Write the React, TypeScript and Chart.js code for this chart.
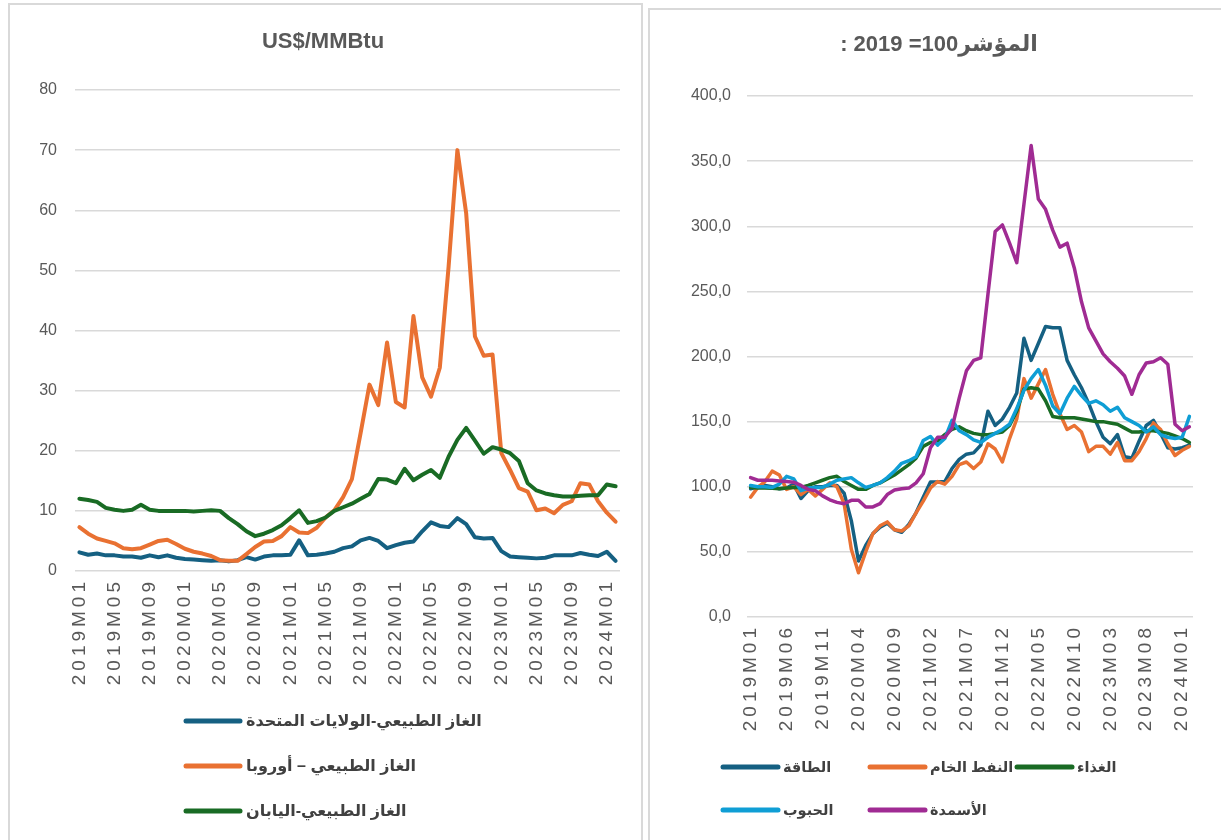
import React, { useEffect, useRef } from "react";
import { Chart, registerables } from "chart.js";
Chart.register(...registerables);

// ---------- categories ----------
function monthLabels(startYear: number, count: number): string[] {
  const out: string[] = [];
  for (let k = 0; k < count; k++) {
    const y = startYear + Math.floor(k / 12);
    const m = (k % 12) + 1;
    out.push(`${y}M${m < 10 ? "0" + m : m}`);
  }
  return out;
}
const gasMonths = monthLabels(2019, 62); // 2019M01 .. 2024M02
const indexMonths = monthLabels(2019, 62);

// ---------- left chart: natural gas, US$/MMBtu ----------
const gasTitle = "US$/MMBtu";
const gasTicks = [0, 10, 20, 30, 40, 50, 60, 70, 80];
const usGasLabel = "الغاز الطبيعي-الولايات المتحدة";
const europeGasLabel = "الغاز الطبيعي – أوروبا";
const japanGasLabel = "الغاز الطبيعي-اليابان";

const usGas = [
  3.1, 2.7, 2.9, 2.6, 2.6, 2.4, 2.4, 2.2, 2.6, 2.3, 2.6, 2.2,
  2.0, 1.9, 1.8, 1.7, 1.8, 1.6, 1.8, 2.3, 1.9, 2.4, 2.6, 2.6,
  2.7, 5.1, 2.6, 2.7, 2.9, 3.2, 3.8, 4.1, 5.1, 5.5, 5.0, 3.8,
  4.3, 4.7, 4.9, 6.6, 8.1, 7.5, 7.3, 8.8, 7.8, 5.6, 5.4, 5.5,
  3.3, 2.4, 2.3, 2.2, 2.1, 2.2, 2.6, 2.6, 2.6, 3.0, 2.7, 2.5,
  3.2, 1.7,
];
const europeGas = [
  7.3, 6.2, 5.4, 5.0, 4.6, 3.8, 3.6, 3.8, 4.4, 5.0, 5.2, 4.5,
  3.7, 3.2, 2.9, 2.5, 1.8, 1.7, 1.7, 2.8, 4.0, 4.9, 5.0, 5.8,
  7.3, 6.4, 6.3, 7.2, 8.9, 10.1, 12.3, 15.3, 23.0, 31.0, 27.6, 38.0,
  28.1, 27.2, 42.4, 32.2, 29.0, 33.8, 50.6, 70.0, 59.5, 39.0, 35.8, 36.0,
  19.6, 16.8, 13.8, 13.2, 10.1, 10.4, 9.6, 11.0, 11.6, 14.6, 14.4, 11.6,
  9.7, 8.2,
];
const japanGas = [
  12.0, 11.8, 11.5, 10.5, 10.2, 10.0, 10.2, 11.0, 10.2, 10.0, 10.0, 10.0,
  10.0, 9.9, 10.0, 10.1, 10.0, 8.8, 7.8, 6.6, 5.8, 6.2, 6.8, 7.6,
  8.8, 10.1, 8.0, 8.3, 8.9, 10.0, 10.6, 11.2, 12.0, 12.8, 15.3, 15.2,
  14.6, 17.0, 15.1, 16.0, 16.8, 15.5, 19.0, 21.8, 23.8, 21.7, 19.5, 20.6,
  20.2, 19.6, 18.3, 14.6, 13.4, 12.9, 12.6, 12.4, 12.4, 12.5, 12.6, 12.6,
  14.4, 14.1,
];

// ---------- right chart: indices, 2019 = 100 ----------
const indexTitle = "المؤشر100= 2019 :";
const indexTicks = [0, 50, 100, 150, 200, 250, 300, 350, 400];
const energyLabel = "الطاقة";
const crudeLabel = "النفط الخام";
const foodLabel = "الغذاء";
const cerealsLabel = "الحبوب";
const fertLabel = "الأسمدة";

const energy = [
  98.5, 100, 101, 100, 98.5, 99, 102, 91, 97, 100, 100, 101,
  101, 95, 74, 43, 55, 64, 69, 72, 67, 65, 71, 80,
  92, 103.6, 103.6, 104, 114, 121, 125, 126, 132, 158, 147, 152,
  161, 172, 214, 197, 210, 223, 222, 222, 197, 186, 176, 164,
  150, 138, 133, 140, 123, 122, 135, 147, 151, 141, 130, 129,
  130, 132,
];
const crude = [
  92, 99.5, 104, 112, 109, 98, 100, 94, 98, 93, 98, 103,
  100, 87, 52, 34, 50, 64, 70, 73, 67, 66, 70, 80,
  89, 99, 104, 102, 108, 117, 119, 114, 119, 133, 129, 119,
  137, 152, 183, 168, 179, 190, 171, 156, 144, 147, 142, 127,
  131, 131, 125, 134, 120, 120, 127, 137, 149, 144, 133, 124,
  128, 131,
];
const food = [
  99.5, 99, 99, 98.8, 98.5, 99, 99.5, 99.5, 101, 103, 105, 107,
  108, 104, 101, 98, 98, 101, 103, 106, 109, 113, 117, 122,
  131, 134, 135, 140, 144, 146, 143, 141, 140, 140, 141, 142,
  147, 158, 175, 176, 175, 166, 154, 153, 153, 153, 152, 151,
  150, 150, 149, 148, 145, 142, 142, 143, 143, 142, 141, 139,
  137, 134,
];
const cereals = [
  101, 100, 100, 99.5, 102, 108, 106, 97, 99, 99.5, 99.5, 102,
  105, 106, 107, 103, 99.5, 101, 103, 107, 112, 118, 120, 123,
  135.5, 138.6, 132, 137, 151, 143, 140, 136, 134, 138, 141, 144,
  148, 160, 174, 183, 190, 178, 162, 156, 168, 177, 170, 164,
  166, 163, 158, 161, 153, 150, 147, 142, 146, 140, 138, 137,
  138, 154,
];
const fertilizers = [
  107, 105, 105, 105, 104.5, 104, 103.5, 101, 98, 97, 93, 90,
  88, 87, 89.6, 89.6, 84.5, 84.5, 87, 94, 97.5, 98.5, 99, 103,
  110, 130, 138, 138, 145, 168, 189, 197, 199, 248, 296, 301,
  287, 272, 317, 362, 321, 313, 297, 284, 287, 268, 242, 222,
  212, 202, 196, 191, 185, 171, 186, 195, 196, 199, 194, 148,
  143, 146,
];

// ---------- styling ----------
const TEXT = "#595959";
const GRID = "#d9d9d9";
const FONT = "'Liberation Sans', 'DejaVu Sans', sans-serif";

const customLegend = {
  id: "customLegend",
  afterDraw(chart: any, _args: any, opts: any) {
    if (!opts || !opts.show) return;
    const ctx = chart.ctx;
    ctx.save();
    ctx.font = opts.font;
    ctx.fillStyle = opts.color;
    ctx.textBaseline = "middle";
    ctx.textAlign = "left";
    chart.data.datasets.forEach((ds: any, k: number) => {
      const col = k % opts.cols;
      const row = Math.floor(k / opts.cols);
      const x = opts.x + col * opts.colW;
      const y = opts.y + row * opts.rowH;
      ctx.strokeStyle = ds.borderColor;
      ctx.lineWidth = opts.lineW;
      ctx.lineCap = "round";
      ctx.beginPath();
      ctx.moveTo(x, y);
      ctx.lineTo(x + opts.len, y);
      ctx.stroke();
      ctx.fillText(ds.label, x + opts.len + opts.gap, y + 1);
    });
    ctx.restore();
  },
};

const customTitle = {
  id: "customTitle",
  afterDraw(chart: any, _args: any, opts: any) {
    if (!opts || !opts.text) return;
    const ctx = chart.ctx;
    ctx.save();
    ctx.font = opts.font;
    ctx.fillStyle = opts.color;
    ctx.textAlign = "center";
    ctx.textBaseline = "middle";
    if (opts.rtl) (ctx as any).direction = "rtl";
    ctx.fillText(opts.text, opts.x, opts.y);
    ctx.restore();
  },
};

const tickSpacing = {
  id: "tickSpacing",
  afterLayout(chart: any, _args: any, opts: any) {
    const sc: any = chart.scales.x;
    if (!sc || sc.__spaced) return;
    const orig = sc.drawLabels.bind(sc);
    sc.drawLabels = (area: any) => {
      const c: any = chart.ctx;
      c.save();
      c.letterSpacing = opts.spacing || "0px";
      orig(area);
      c.restore();
    };
    sc.__spaced = true;
  },
};

type PanelCfg = {
  labels: string[];
  datasets: { label: string; data: number[]; color: string }[];
  title: any;
  min: number;
  max: number;
  step: number;
  every: number;
  fmt: (v: number) => string;
  yWidth: number;
  yPad: number;
  xHeight: number;
  padRight: number;
  padBottom: number;
  padTop: number;
  legend: any;
  lineW: number;
};

function ChartCanvas({ cfg, width, height, left, top }: { cfg: PanelCfg; width: number; height: number; left: number; top: number }) {
  const ref = useRef<HTMLCanvasElement | null>(null);
  useEffect(() => {
    if (!ref.current) return;
    const n = cfg.datasets.length;
    const chart = new Chart(ref.current, {
      type: "line",
      data: {
        labels: cfg.labels,
        datasets: cfg.datasets.map((d, i) => ({
          label: d.label,
          data: d.data,
          borderColor: d.color,
          backgroundColor: d.color,
          borderWidth: cfg.lineW,
          pointRadius: 0,
          tension: 0,
          fill: false,
          borderJoinStyle: "round",
          borderCapStyle: "round",
          order: n - i,
        })),
      },
      options: {
        responsive: false,
        animation: false,
        layout: { padding: { left: 0, right: cfg.padRight, top: cfg.padTop, bottom: cfg.padBottom } },
        plugins: {
          legend: { display: false },
          tooltip: { enabled: false },
          title: { display: false },
          customTitle: cfg.title,
          customLegend: cfg.legend,
          tickSpacing: { spacing: "4px" },
        } as any,
        scales: {
          x: {
            type: "category",
            offset: true,
            grid: { display: false, drawTicks: false },
            border: { display: false },
            ticks: {
              autoSkip: false,
              minRotation: 90,
              maxRotation: 90,
              padding: 7,
              color: TEXT,
              font: { family: FONT, size: 19 },
              callback: function (this: any, _v: any, i: number) {
                return i % cfg.every === 0 ? cfg.labels[i] : "";
              },
            },
            afterFit: (s: any) => {
              s.height = cfg.xHeight;
              s.paddingLeft = 0;
              s.paddingRight = 0;
            },
          },
          y: {
            min: cfg.min,
            max: cfg.max,
            grid: { color: GRID, lineWidth: 1.5, drawTicks: false },
            border: { display: false },
            ticks: {
              stepSize: cfg.step,
              padding: cfg.yPad,
              color: TEXT,
              font: { family: FONT, size: 16 },
              callback: (v: any) => cfg.fmt(Number(v)),
            },
            afterFit: (s: any) => {
              s.width = cfg.yWidth;
            },
          },
        },
      },
      plugins: [customTitle, customLegend, tickSpacing],
    } as any);
    return () => chart.destroy();
  }, []);
  return (
    <canvas
      ref={ref}
      width={width}
      height={height}
      style={{ position: "absolute", left, top, width, height }}
    />
  );
}

const leftCfg: PanelCfg = {
  labels: gasMonths,
  datasets: [
    { label: usGasLabel, data: usGas, color: "#156082" },
    { label: europeGasLabel, data: europeGas, color: "#E97132" },
    { label: japanGasLabel, data: japanGas, color: "#196B24" },
  ],
  title: { text: gasTitle, font: `bold 22px ${FONT}`, color: TEXT, x: 313, y: 37, rtl: false },
  min: gasTicks[0],
  max: gasTicks[gasTicks.length - 1],
  step: gasTicks[1] - gasTicks[0],
  every: 4,
  fmt: (v) => String(v),
  yWidth: 65,
  yPad: 18,
  xHeight: 130,
  padRight: 20,
  padBottom: 139,
  padTop: 85,
  lineW: 4,
  legend: { show: true, font: `bold 16px ${FONT}`, color: "#404040", x: 176, y: 716, cols: 1, colW: 0, rowH: 45, len: 54, gap: 6, lineW: 5 },
};

const rightCfg: PanelCfg = {
  labels: indexMonths,
  datasets: [
    { label: energyLabel, data: energy, color: "#156082" },
    { label: crudeLabel, data: crude, color: "#E97132" },
    { label: foodLabel, data: food, color: "#196B24" },
    { label: cerealsLabel, data: cereals, color: "#0F9ED5" },
    { label: fertLabel, data: fertilizers, color: "#A02B93" },
  ],
  title: { text: indexTitle, font: `bold 22px ${FONT}`, color: TEXT, x: 288, y: 35, rtl: true },
  min: indexTicks[0],
  max: indexTicks[indexTicks.length - 1],
  step: indexTicks[1] - indexTicks[0],
  every: 5,
  fmt: (v) => v.toFixed(1).replace(".", ","),
  yWidth: 96,
  yPad: 16,
  xHeight: 130,
  padRight: 28,
  padBottom: 93,
  padTop: 86,
  lineW: 3.5,
  legend: { show: true, font: `bold 14.5px ${FONT}`, color: "#404040", x: 72, y: 757, cols: 3, colW: 147, rowH: 43, len: 55, gap: 5, lineW: 5 },
};

export default function App() {
  return (
    <div style={{ position: "fixed", left: 0, top: 0, width: 1221, height: 840, background: "#fff", overflow: "hidden" }}>
      <div style={{ position: "absolute", left: 8, top: 3, width: 635, height: 860, border: "2px solid #d9d9d9", boxSizing: "border-box" }} />
      <div style={{ position: "absolute", left: 648, top: 8, width: 590, height: 860, border: "2px solid #d9d9d9", boxSizing: "border-box" }} />
      <ChartCanvas cfg={leftCfg} width={630} height={835} left={10} top={5} />
      <ChartCanvas cfg={rightCfg} width={570} height={830} left={651} top={10} />
    </div>
  );
}
